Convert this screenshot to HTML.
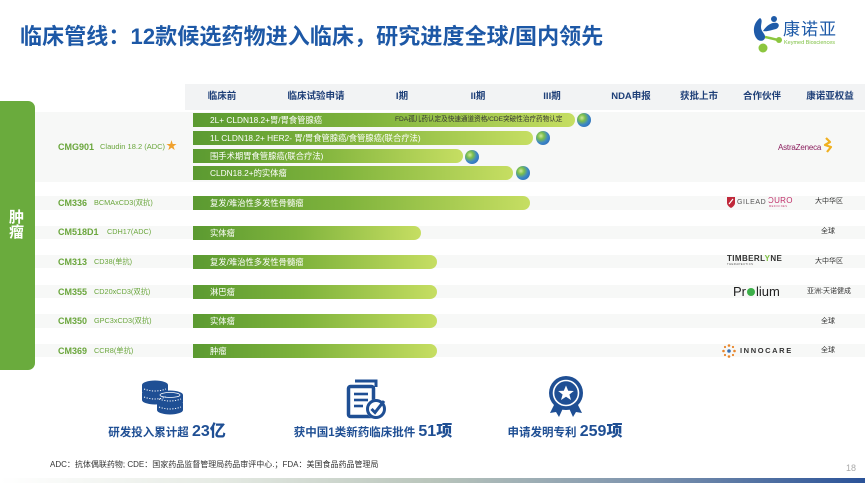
<!DOCTYPE html>
<html><head><meta charset="utf-8">
<style>
*{margin:0;padding:0;box-sizing:border-box}
html,body{width:865px;height:483px;overflow:hidden;background:#fff}
body{position:relative;font-family:"Liberation Sans","Noto Sans CJK SC",sans-serif}
.a{position:absolute;white-space:nowrap}
.title{left:20px;top:25px;font-size:22px;font-weight:bold;color:#1d58a6;line-height:24px;letter-spacing:0.1px}
.hd{top:91px;font-size:9.5px;font-weight:bold;color:#1e3f78;line-height:12px;transform:translateX(-50%)}
.band{position:absolute;background:#f7f8f7}
.bar{position:absolute;left:193px;height:14px;border-radius:0 7px 7px 0;background:linear-gradient(90deg,#5b9a31 0%,#7fb33c 45%,#c6de62 100%);color:#fff;font-size:8.3px;line-height:14px;padding-left:17px;white-space:nowrap;overflow:hidden}
.globe{position:absolute;width:14px;height:14px;border-radius:50%;background:radial-gradient(circle at 35% 35%,#cfe8a0 0%,#7cbf4a 25%,#3b86c9 55%,#2a62a8 100%)}
.lb{font-size:9px;font-weight:bold;color:#6aa63c;line-height:12px}
.sb{font-size:7.5px;color:#6aa63c;line-height:12px}
.rt{font-size:7px;color:#333;line-height:10px}
.stat{top:424px;font-size:11.5px;font-weight:bold;color:#1f4f94;line-height:16px;transform:translateX(-50%)}
.stat b{font-size:16px}
</style></head><body>

<div class="a title">临床管线：12款候选药物进入临床，研究进度全球/国内领先</div>

<!-- logo -->
<svg class="a" style="left:750px;top:15px" width="36" height="40" viewBox="0 0 36 40">
  <path d="M10 3 C3 8,2 18,7 24 C10 27,14 26,15 23 C16 19,11 17,11 12 C11 8,13 5,10 3 Z" fill="#1f5ba8"/>
  <path d="M13 16 C17 10,22 7,27 8 C30 9,29 13,26 14 C21 15,17 17,13 16 Z" fill="#1f5ba8"/>
  <circle cx="24" cy="4" r="3" fill="#1f5ba8"/>
  <circle cx="13" cy="33" r="4.5" fill="#8cc63f"/>
  <path d="M15 22 C20 23,24 24,28 25" stroke="#8cc63f" stroke-width="2.5" fill="none"/>
  <circle cx="29" cy="25" r="3" fill="#8cc63f"/>
</svg>
<div class="a" style="left:783px;top:20px;font-size:17px;color:#1f5ba8;line-height:19px;letter-spacing:1px">康诺亚</div>
<div class="a" style="left:784px;top:40px;font-size:5.5px;color:#7cbf3f;line-height:7px">Keymed Biosciences</div>

<!-- header band -->
<div class="band" style="left:185px;top:84px;width:680px;height:26px;background:#f2f3f4"></div>
<div class="a hd" style="left:222px">临床前</div>
<div class="a hd" style="left:316px">临床试验申请</div>
<div class="a hd" style="left:402px">I期</div>
<div class="a hd" style="left:478px">II期</div>
<div class="a hd" style="left:552px">III期</div>
<div class="a hd" style="left:631px">NDA申报</div>
<div class="a hd" style="left:699px">获批上市</div>
<div class="a hd" style="left:762px">合作伙伴</div>
<div class="a hd" style="left:830px">康诺亚权益</div>

<!-- row bands -->
<div class="band" style="left:35px;top:112px;width:830px;height:70px"></div>
<div class="band" style="left:35px;top:196px;width:830px;height:14px"></div>
<div class="band" style="left:35px;top:226px;width:830px;height:13px"></div>
<div class="band" style="left:35px;top:255px;width:830px;height:13px"></div>
<div class="band" style="left:35px;top:285px;width:830px;height:13px"></div>
<div class="band" style="left:35px;top:314px;width:830px;height:14px"></div>
<div class="band" style="left:35px;top:344px;width:830px;height:13px"></div>

<!-- green tab -->
<div class="a" style="left:0;top:101px;width:35px;height:269px;background:#6aab3d;border-radius:0 7px 7px 0"></div>
<div class="a" style="left:9px;top:210px;font-size:15px;font-weight:bold;color:#fff;line-height:15px;white-space:normal;width:16px">肿<br>瘤</div>

<!-- labels -->
<div class="a lb" style="left:58px;top:141px">CMG901</div>
<div class="a sb" style="left:100px;top:141px">Claudin 18.2 (ADC)</div>
<div class="a" style="left:166px;top:140px;font-size:11px;color:#f0a12e;line-height:13px">★</div>

<div class="a lb" style="left:58px;top:197px">CM336</div>
<div class="a sb" style="left:94px;top:197px;font-size:7.3px">BCMAxCD3(双抗)</div>
<div class="a lb" style="left:58px;top:226px">CM518D1</div>
<div class="a sb" style="left:107px;top:226px;font-size:7.3px">CDH17(ADC)</div>
<div class="a lb" style="left:58px;top:256px">CM313</div>
<div class="a sb" style="left:94px;top:256px;font-size:7.3px">CD38(单抗)</div>
<div class="a lb" style="left:58px;top:286px">CM355</div>
<div class="a sb" style="left:94px;top:286px;font-size:7.3px">CD20xCD3(双抗)</div>
<div class="a lb" style="left:58px;top:315px">CM350</div>
<div class="a sb" style="left:94px;top:315px;font-size:7.3px">GPC3xCD3(双抗)</div>
<div class="a lb" style="left:58px;top:345px">CM369</div>
<div class="a sb" style="left:94px;top:345px;font-size:7.3px">CCR8(单抗)</div>

<!-- bars -->
<div class="bar" style="top:113px;width:382px">2L+ CLDN18.2+胃/胃食管腺癌</div>
<div class="a" style="left:395px;top:115px;font-size:6.6px;color:#333;line-height:10px">FDA孤儿药认定及快速通道资格/CDE突破性治疗药物认定</div>
<div class="globe" style="left:577px;top:113px"></div>
<div class="bar" style="top:131px;width:340px">1L CLDN18.2+ HER2- 胃/胃食管腺癌/食管腺癌(联合疗法)</div>
<div class="globe" style="left:536px;top:131px"></div>
<div class="bar" style="top:149px;width:270px">围手术期胃食管腺癌(联合疗法)</div>
<div class="globe" style="left:465px;top:150px"></div>
<div class="bar" style="top:166px;width:320px">CLDN18.2+的实体瘤</div>
<div class="globe" style="left:516px;top:166px"></div>

<div class="bar" style="top:196px;width:337px">复发/难治性多发性骨髓瘤</div>
<div class="bar" style="top:226px;width:228px">实体瘤</div>
<div class="bar" style="top:255px;width:244px">复发/难治性多发性骨髓瘤</div>
<div class="bar" style="top:285px;width:244px">淋巴瘤</div>
<div class="bar" style="top:314px;width:244px">实体瘤</div>
<div class="bar" style="top:344px;width:244px">肿瘤</div>

<!-- partners -->
<div class="a" style="left:778px;top:143px;font-size:8px;color:#8b1f5e;line-height:10px;letter-spacing:-0.2px">AstraZeneca</div>
<svg class="a" style="left:822px;top:137px" width="12" height="16" viewBox="0 0 12 16"><path d="M4 1 L8 5 L3 8 L9 10 L5 15" stroke="#f0b020" stroke-width="2.2" fill="none" stroke-linejoin="round"/></svg>

<svg class="a" style="left:727px;top:196px" width="8" height="12" viewBox="0 0 8 12"><path d="M0 1 L8 1 L8 7 C8 10,4 12,4 12 C4 12,0 10,0 7 Z" fill="#c0283a"/><path d="M2 8 L6 3" stroke="#fff" stroke-width="1.2"/></svg>
<div class="a" style="left:737px;top:198px;font-size:7px;color:#555;line-height:9px;letter-spacing:0.6px">GILEAD</div>
<div class="a" style="left:768px;top:196px;font-size:8px;color:#c0306a;line-height:9px;letter-spacing:0.3px">ƆURO</div>
<div class="a" style="left:769px;top:205px;font-size:2.5px;color:#c0306a;line-height:3px;letter-spacing:0.5px">MEDICINES</div>
<div class="a rt" style="left:815px;top:197px">大中华区</div>

<div class="a rt" style="left:821px;top:227px">全球</div>

<div class="a" style="left:727px;top:254px;font-size:8px;font-weight:bold;color:#333;line-height:9px;letter-spacing:0.4px">TIMBERL<span style="color:#7cbf3f">Y</span>NE</div>
<div class="a" style="left:727px;top:263px;font-size:2.8px;color:#555;line-height:3px;letter-spacing:0.4px">THERAPEUTICS</div>
<div class="a rt" style="left:815px;top:257px">大中华区</div>

<div class="a" style="left:733px;top:284px;font-size:13px;color:#222;line-height:16px">Pr<span style="display:inline-block;width:8px;height:8px;border-radius:50%;background:#3db04a;margin:0 1px"></span>lium</div>
<div class="a rt" style="left:807px;top:287px">亚洲:天诺健成</div>

<div class="a rt" style="left:821px;top:317px">全球</div>

<svg class="a" style="left:722px;top:344px" width="14" height="14" viewBox="0 0 14 14"><g fill="#e8862a"><circle cx="7" cy="1.5" r="1.3"/><circle cx="7" cy="12.5" r="1.3"/><circle cx="1.5" cy="7" r="1.3"/><circle cx="12.5" cy="7" r="1.3"/><circle cx="3" cy="3" r="1.1"/><circle cx="11" cy="3" r="1.1"/><circle cx="3" cy="11" r="1.1"/><circle cx="11" cy="11" r="1.1"/></g><circle cx="7" cy="7" r="1.8" fill="#3a6fb0"/></svg>
<div class="a" style="left:740px;top:346px;font-size:7.5px;font-weight:bold;color:#333;line-height:9px;letter-spacing:1.6px">INNOCARE</div>
<div class="a rt" style="left:821px;top:346px">全球</div>

<!-- bottom icons -->
<svg class="a" style="left:141px;top:380px" width="43" height="36" viewBox="0 0 43 36">
  <g fill="#1f4f94">
    <ellipse cx="14" cy="5" rx="13" ry="4.5"/>
    <rect x="1" y="5" width="26" height="7"/><ellipse cx="14" cy="12" rx="13" ry="4.5"/>
    <rect x="1" y="13" width="26" height="7"/><ellipse cx="14" cy="20" rx="13" ry="4.5"/>
    <ellipse cx="29" cy="15" rx="13" ry="4.5"/>
    <rect x="16" y="15" width="26" height="7"/><ellipse cx="29" cy="22" rx="13" ry="4.5"/>
    <rect x="16" y="23" width="26" height="7"/><ellipse cx="29" cy="30" rx="13" ry="4.5"/>
  </g>
  <g stroke="#fff" stroke-width="1" stroke-dasharray="1.2 1.5" fill="none">
    <path d="M3 9 Q14 13 25 9"/><path d="M3 17 Q14 21 25 17"/>
    <path d="M18 19 Q29 23 40 19"/><path d="M18 27 Q29 31 40 27"/>
  </g>
  <ellipse cx="29" cy="15" rx="10" ry="2.5" fill="none" stroke="#fff" stroke-width="0.8"/>
</svg>
<svg class="a" style="left:346px;top:379px" width="42" height="42" viewBox="0 0 42 42">
  <path d="M9 2 L30 2 L30 8" stroke="#1f4f94" stroke-width="3" fill="none"/>
  <rect x="2.5" y="7.5" width="25" height="30" rx="2" fill="none" stroke="#1f4f94" stroke-width="3.5"/>
  <g stroke="#1f4f94" stroke-width="2.6"><path d="M8 15 H22"/><path d="M8 21 H22"/><path d="M8 27 H17"/></g>
  <circle cx="30" cy="30" r="10" fill="#fff"/>
  <circle cx="30" cy="30" r="8.5" fill="none" stroke="#1f4f94" stroke-width="3"/>
  <path d="M25.5 30 L29 33.5 L38 22" stroke="#1f4f94" stroke-width="3" fill="none"/>
</svg>
<svg class="a" style="left:546px;top:375px" width="40" height="43" viewBox="0 0 40 43">
  <path d="M10 26 L4 38 L10 37 L13 42 L18 31 Z" fill="#1f4f94"/>
  <path d="M30 26 L36 38 L30 37 L27 42 L22 31 Z" fill="#1f4f94"/>
  <circle cx="20" cy="18" r="17" fill="#1f4f94"/>
  <circle cx="20" cy="18" r="12.5" fill="none" stroke="#fff" stroke-width="1.6"/>
  <path d="M20 10.5 L22.2 15.8 L27.8 16 L23.4 19.5 L25 25 L20 21.8 L15 25 L16.6 19.5 L12.2 16 L17.8 15.8 Z" fill="#fff"/>
</svg>
<div class="a stat" style="left:167px">研发投入累计超 <b>23亿</b></div>
<div class="a stat" style="left:373px">获中国1类新药临床批件 <b>51项</b></div>
<div class="a stat" style="left:565px">申请发明专利 <b>259项</b></div>

<div class="a" style="left:50px;top:460px;font-size:8px;color:#333;line-height:10px">ADC：抗体偶联药物; CDE：国家药品监督管理局药品审评中心.；FDA：美国食品药品管理局</div>
<div class="a" style="left:846px;top:463px;font-size:9px;color:#aaa;line-height:10px">18</div>

<div class="a" style="left:0;top:478px;width:865px;height:5px;background:linear-gradient(90deg,#ffffff 0%,#e6ebe4 25%,#b9c5bb 50%,#7d93ad 75%,#2a5298 100%)"></div>
</body></html>
